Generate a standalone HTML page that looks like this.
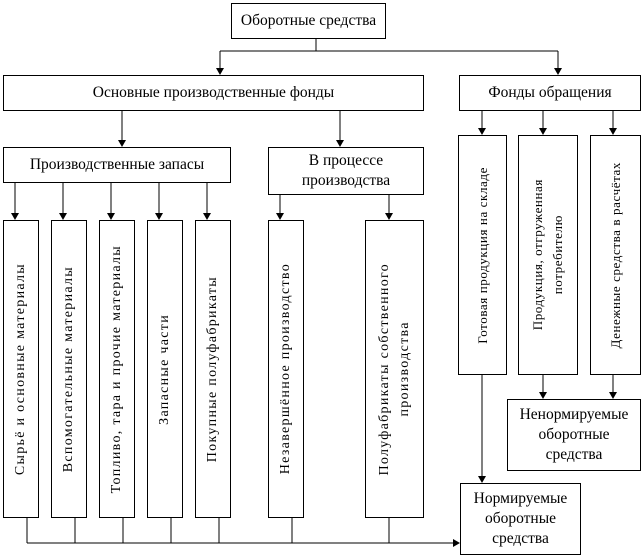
<!DOCTYPE html>
<html><head><meta charset="utf-8"><style>
body{margin:0;background:#fff;width:642px;height:558px;position:relative;overflow:hidden;font-family:"Liberation Serif","DejaVu Serif",serif;font-size:15.5px;color:#000}
.b{position:absolute;border:1px solid #000;box-sizing:border-box;display:flex;align-items:center;justify-content:center;text-align:center;line-height:20px;background:#fff}
.v{writing-mode:vertical-rl;transform:rotate(180deg);letter-spacing:1.3px;line-height:20px;white-space:nowrap;font-size:14px}
.r .v{letter-spacing:0.6px;font-size:13px}
svg{position:absolute;left:0;top:0}
</style></head><body>
<svg width="642" height="558">
<g stroke="#000" stroke-width="1" fill="none">
<path d="M316 39V51M220 51H558M220 51V70M558 51V70"/>
<path d="M122 111V142M340 111V142"/>
<path d="M482 111V130M543 111V130M613 111V130"/>
<path d="M15 183V215M63 183V215M111 183V215M159 183V215M207 183V215M280 195V215M389 195V215"/>
<path d="M27 518V543M75 518V543M123 518V543M171 518V543M219 518V543M292 518V543M389 518V543M27 543H455"/>
<path d="M482 375V478M543 375V394M613 375V394"/>
</g>
<g fill="#000">
<path d="M216 68h8l-4 7z"/><path d="M554 68h8l-4 7z"/>
<path d="M118 140h8l-4 7z"/><path d="M336 140h8l-4 7z"/>
<path d="M478 128h8l-4 7z"/><path d="M539 128h8l-4 7z"/><path d="M609 128h8l-4 7z"/>
<path d="M11 213h8l-4 7z"/><path d="M59 213h8l-4 7z"/><path d="M107 213h8l-4 7z"/><path d="M155 213h8l-4 7z"/><path d="M203 213h8l-4 7z"/><path d="M276 213h8l-4 7z"/><path d="M385 213h8l-4 7z"/>
<path d="M478 476h8l-4 7z"/><path d="M539 392h8l-4 7z"/><path d="M609 392h8l-4 7z"/>
<path d="M453 539v8l7-4z"/>
</g>
</svg>
<div class="b" style="left:231px;top:3px;width:155px;height:36px">Оборотные средства</div>
<div class="b" style="left:3px;top:75px;width:421px;height:36px">Основные производственные фонды</div>
<div class="b" style="left:459px;top:75px;width:182px;height:36px">Фонды обращения</div>
<div class="b" style="left:3px;top:147px;width:228px;height:36px">Производственные запасы</div>
<div class="b" style="left:268px;top:147px;width:156px;height:48px">В процессе<br>производства</div>
<div class="b" style="left:3px;top:220px;width:36px;height:298px"><span class="v">Сырьё и основные материалы</span></div>
<div class="b" style="left:51px;top:220px;width:36px;height:298px"><span class="v">Вспомогательные материалы</span></div>
<div class="b" style="left:99px;top:220px;width:36px;height:298px"><span class="v">Топливо, тара и прочие материалы</span></div>
<div class="b" style="left:147px;top:220px;width:36px;height:298px"><span class="v">Запасные части</span></div>
<div class="b" style="left:195px;top:220px;width:36px;height:298px"><span class="v">Покупные полуфабрикаты</span></div>
<div class="b" style="left:268px;top:220px;width:36px;height:298px"><span class="v">Незавершённое производство</span></div>
<div class="b" style="left:365px;top:220px;width:59px;height:298px"><span class="v">Полуфабрикаты собственного<br>производства</span></div>
<div class="b r" style="left:458px;top:135px;width:49px;height:240px"><span class="v">Готовая продукция на складе</span></div>
<div class="b r" style="left:518px;top:135px;width:60px;height:240px"><span class="v">Продукция, отгруженная<br>потребителю</span></div>
<div class="b r" style="left:590px;top:135px;width:51px;height:240px"><span class="v">Денежные средства в расчётах</span></div>
<div class="b" style="left:507px;top:399px;width:134px;height:72px">Ненормируемые<br>оборотные<br>средства</div>
<div class="b" style="left:460px;top:483px;width:121px;height:72px">Нормируемые<br>оборотные<br>средства</div>
</body></html>
